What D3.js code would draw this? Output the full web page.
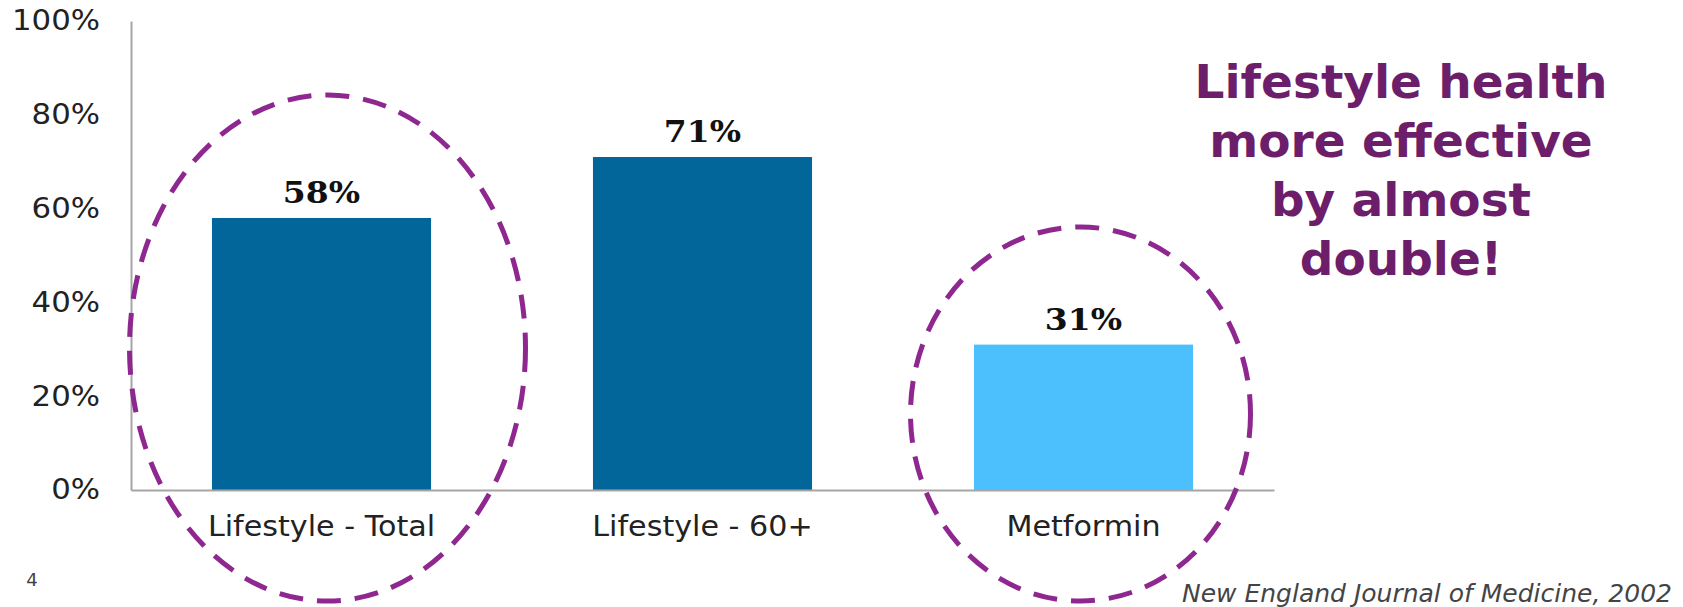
<!DOCTYPE html>
<html>
<head>
<meta charset="utf-8">
<script src="https://cdn.jsdelivr.net/npm/d3@7"></script>
<style>
  html, body { margin: 0; padding: 0; background: #ffffff; }
  svg { display: block; }
</style>
</head>
<body>
<svg id="chart" width="1683" height="607"></svg>
<script>
// Diabetes risk reduction by intervention
const categories = ["Lifestyle - Total", "Lifestyle - 60+", "Metformin"];
const values = [58, 71, 31];
const yTickValues = [0, 20, 40, 60, 80, 100];
const highlighted = ["Lifestyle - Total", "Metformin"];
const headline = ["Lifestyle health", "more effective", "by almost", "double!"];
const source = "New England Journal of Medicine, 2002";
const pageNumber = "4";

const svg = d3.select("#chart");

// Widen text horizontally (the slide typeface runs wider than DejaVu)
function widen(selection, factor) {
  selection.each(function () {
    const w = this.getComputedTextLength();
    d3.select(this)
      .attr("textLength", w * factor)
      .attr("lengthAdjust", "spacingAndGlyphs");
  });
}

const x = d3.scaleBand()
  .domain(categories)
  .range([131, 1274])
  .paddingInner(0.425)
  .paddingOuter(0.2125);

const y = d3.scaleLinear()
  .domain([0, 100])
  .range([490, 21]);

const barColor = d3.scaleOrdinal()
  .domain(categories)
  .range(["#02669b", "#02669b", "#4bc0fd"]);

// Bars
svg.append("g")
  .selectAll("rect")
  .data(categories)
  .join("rect")
  .attr("x", d => x(d))
  .attr("y", (d, i) => y(values[i]))
  .attr("width", x.bandwidth())
  .attr("height", (d, i) => y(0) - y(values[i]))
  .attr("fill", d => barColor(d));

// Value labels
svg.append("g")
  .selectAll("text")
  .data(categories)
  .join("text")
  .attr("x", d => x(d) + x.bandwidth() / 2)
  .attr("y", (d, i) => y(values[i]) - 15)
  .attr("text-anchor", "middle")
  .attr("font-family", "'DejaVu Serif', serif")
  .attr("font-weight", "bold")
  .attr("font-size", 30)
  .attr("fill", "#111")
  .text((d, i) => values[i] + "%")
  .call(widen, 1.1);

// Y axis
const yAxis = svg.append("g")
  .attr("transform", `translate(131,0)`)
  .call(d3.axisLeft(y)
    .tickValues(yTickValues)
    .tickFormat(d => d + "%")
    .tickSize(0)
    .tickSizeOuter(0)
    .tickPadding(31));
yAxis.select(".domain").attr("stroke", "#a6a6a6").attr("stroke-width", 2);
yAxis.selectAll("text")
  .attr("font-family", "'DejaVu Sans', Verdana, sans-serif")
  .attr("font-size", 28)
  .attr("fill", "#222")
  .call(widen, 1.1);

// X axis
const xAxis = svg.append("g")
  .attr("transform", `translate(0,${y(0)})`)
  .call(d3.axisBottom(x)
    .tickSize(0)
    .tickSizeOuter(0)
    .tickPadding(25));
xAxis.select(".domain").attr("stroke", "#a6a6a6").attr("stroke-width", 2);
xAxis.selectAll("text")
  .attr("font-family", "'DejaVu Sans', Verdana, sans-serif")
  .attr("font-size", 29)
  .attr("fill", "#222")
  .call(widen, 1.04);

// Dashed highlight ellipses around the lifestyle-total and metformin bars
const ellipseShape = {
  "Lifestyle - Total": { dx: 6, cy: 348, rx: 198, ry: 253 },
  "Metformin": { dx: -3, cy: 414, rx: 170, ry: 187 }
};
svg.append("g")
  .selectAll("ellipse")
  .data(highlighted)
  .join("ellipse")
  .attr("cx", d => x(d) + x.bandwidth() / 2 + ellipseShape[d].dx)
  .attr("cy", d => ellipseShape[d].cy)
  .attr("rx", d => ellipseShape[d].rx)
  .attr("ry", d => ellipseShape[d].ry)
  .attr("fill", "none")
  .attr("stroke", "#8e278f")
  .attr("stroke-width", 5)
  .attr("stroke-dasharray", "24 14");

// Headline
svg.append("g")
  .selectAll("text")
  .data(headline)
  .join("text")
  .attr("x", 1401)
  .attr("y", (d, i) => 98 + i * 59)
  .attr("text-anchor", "middle")
  .attr("font-family", "'DejaVu Sans', Verdana, sans-serif")
  .attr("font-weight", "bold")
  .attr("font-size", 47)
  .attr("fill", "#6c1e6b")
  .text(d => d);

// Source note
svg.append("text")
  .attr("x", 1672)
  .attr("y", 602)
  .attr("text-anchor", "end")
  .attr("font-family", "'DejaVu Sans', Verdana, sans-serif")
  .attr("font-style", "italic")
  .attr("font-size", 25)
  .attr("fill", "#444")
  .text(source);

// Slide number
svg.append("text")
  .attr("x", 32)
  .attr("y", 586)
  .attr("text-anchor", "middle")
  .attr("font-family", "'DejaVu Sans', Verdana, sans-serif")
  .attr("font-size", 18)
  .attr("fill", "#444")
  .text(pageNumber);
</script>
</body>
</html>
